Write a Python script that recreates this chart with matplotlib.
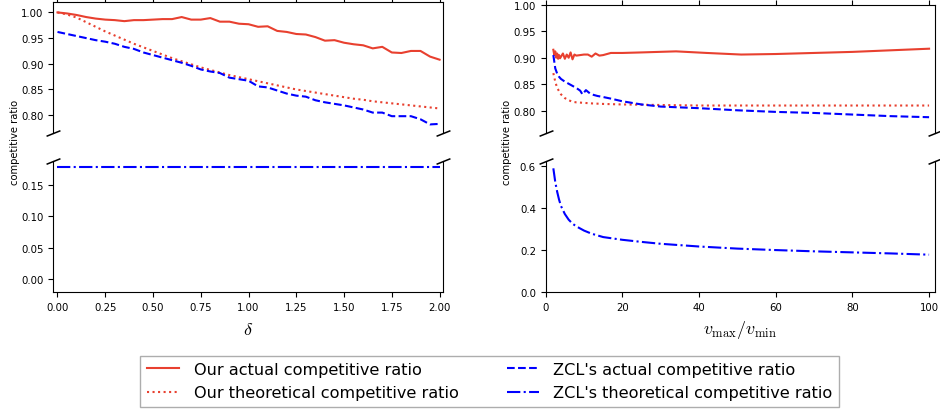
import matplotlib
matplotlib.use("Agg")
import matplotlib.pyplot as plt
import numpy as np

plt.rcParams['mathtext.fontset'] = 'cm'

# left panel: ratio vs delta
delta = np.linspace(0, 2, 41)
our_actual_d = [1.000, 0.998, 0.995, 0.991, 0.988, 0.986, 0.985, 0.983, 0.985, 0.985,
                0.986, 0.987, 0.987, 0.991, 0.986, 0.986, 0.989, 0.982, 0.982, 0.978,
                0.977, 0.972, 0.973, 0.964, 0.962, 0.958, 0.957, 0.952, 0.945, 0.946,
                0.941, 0.938, 0.936, 0.930, 0.933, 0.922, 0.921, 0.925, 0.925, 0.914,
                0.908]
our_theory_d = [1.000, 0.996, 0.990, 0.981, 0.972, 0.963, 0.955, 0.947, 0.939, 0.932,
                0.925, 0.918, 0.911, 0.905, 0.899, 0.893, 0.888, 0.883, 0.878, 0.874,
                0.870, 0.866, 0.862, 0.858, 0.854, 0.850, 0.847, 0.844, 0.841, 0.838,
                0.835, 0.832, 0.830, 0.827, 0.825, 0.823, 0.821, 0.819, 0.817, 0.815,
                0.813]
zcl_actual_d = [0.962, 0.958, 0.954, 0.950, 0.946, 0.943, 0.939, 0.933, 0.929, 0.922,
                0.917, 0.912, 0.907, 0.902, 0.896, 0.889, 0.885, 0.882, 0.873, 0.870,
                0.867, 0.856, 0.854, 0.848, 0.842, 0.838, 0.836, 0.829, 0.825, 0.822,
                0.819, 0.815, 0.811, 0.805, 0.805, 0.798, 0.798, 0.798, 0.792, 0.782,
                0.783]
zcl_theory_d = [0.178] * 41

# right panel: ratio vs vmax/vmin
v_our_act = [2, 2.25, 2.5, 2.75, 3, 3.25, 3.5, 3.75, 4, 4.5, 5, 5.5, 6, 6.5, 7, 7.5, 8,
             9, 10, 11, 12, 13, 14, 15, 17, 20, 25, 34, 42, 51, 60, 70, 80, 90, 100]
our_actual_v = [0.915, 0.905, 0.912, 0.900, 0.908, 0.898, 0.905, 0.899, 0.902, 0.908,
                0.898, 0.906, 0.900, 0.910, 0.897, 0.906, 0.904, 0.905, 0.906, 0.906,
                0.902, 0.908, 0.904, 0.905, 0.909, 0.909, 0.910, 0.912, 0.909, 0.906,
                0.907, 0.909, 0.911, 0.914, 0.917]
v_our_th = [2, 2.5, 3, 3.5, 4, 5, 6, 7, 8, 10, 12, 15, 20, 30, 40, 60, 80, 100]
our_theory_v = [0.871, 0.855, 0.843, 0.837, 0.831, 0.824, 0.820, 0.817, 0.816, 0.815,
                0.814, 0.813, 0.812, 0.811, 0.810, 0.810, 0.810, 0.810]
v_zcl_act = [2, 2.5, 3, 3.5, 4, 5, 6, 7, 8, 9, 9.6, 10.5, 11.5, 12.5, 13.5, 15, 17, 20,
             25, 30, 40, 50, 60, 70, 80, 90, 100]
zcl_actual_v = [0.905, 0.880, 0.870, 0.864, 0.860, 0.855, 0.851, 0.847, 0.843, 0.838,
                0.831, 0.839, 0.833, 0.830, 0.828, 0.826, 0.823, 0.818, 0.812, 0.808,
                0.805, 0.801, 0.798, 0.796, 0.793, 0.790, 0.788]
v_zcl_th = [2, 2.5, 3, 3.5, 4, 5, 6, 7, 8, 10, 12, 15, 20, 25, 30, 40, 50, 60, 70, 80, 90, 100]
zcl_theory_v = [0.590, 0.525, 0.478, 0.440, 0.410, 0.372, 0.345, 0.326, 0.313, 0.293,
                0.278, 0.262, 0.249, 0.239, 0.230, 0.217, 0.207, 0.200, 0.194, 0.189,
                0.184, 0.178]

labels = ["Our actual competitive ratio", "Our theoretical competitive ratio",
          "ZCL's actual competitive ratio", "ZCL's theoretical competitive ratio"]
red = '#e8402f'
blue = '#0000ff'
lw = 1.5

fig = plt.figure(figsize=(9.4, 4.14), dpi=100)

W = 0.414
H = 0.3164
left_top = fig.add_axes([0.0569, 0.676, W, H])
left_bot = fig.add_axes([0.0569, 0.2923, W, H])
right_top = fig.add_axes([0.5805, 0.676, W, H - 0.006])
right_bot = fig.add_axes([0.5805, 0.2923, W, H])


def broken(top, bot):
    top.spines['bottom'].set_visible(False)
    bot.spines['top'].set_visible(False)
    top.xaxis.tick_top()
    top.tick_params(labeltop=False)
    bot.xaxis.tick_bottom()
    for a in (top, bot):
        a.tick_params(labelsize=7.3, length=3.5)
    d = .4
    kw = dict(marker=[(-1, -d), (1, d)], markersize=10, linestyle="none",
              color='k', mec='k', mew=1.1, clip_on=False)
    top.plot([0, 1], [0, 0], transform=top.transAxes, **kw)
    bot.plot([0, 1], [1, 1], transform=bot.transAxes, **kw)


lines = []
for ax in (left_top, left_bot):
    l1, = ax.plot(delta, our_actual_d, color=red, lw=lw, ls='-')
    l2, = ax.plot(delta, our_theory_d, color=red, lw=lw, ls=':')
    l3, = ax.plot(delta, zcl_actual_d, color=blue, lw=lw, ls='--')
    l4, = ax.plot(delta, zcl_theory_d, color=blue, lw=lw, ls='-.')
    ax.set_xlim(-0.021, 2.016)
    lines = [l1, l2, l3, l4]
left_top.set_ylim(0.765, 1.02)
left_top.set_yticks([0.80, 0.85, 0.90, 0.95, 1.00])
left_bot.set_ylim(-0.02, 0.188)
left_bot.set_yticks([0.00, 0.05, 0.10, 0.15])
left_bot.set_xticks([0, 0.25, 0.5, 0.75, 1.0, 1.25, 1.5, 1.75, 2.0])
left_top.set_xticks([0, 0.25, 0.5, 0.75, 1.0, 1.25, 1.5, 1.75, 2.0])
broken(left_top, left_bot)

for ax in (right_top, right_bot):
    ax.plot(v_our_act, our_actual_v, color=red, lw=lw, ls='-')
    ax.plot(v_our_th, our_theory_v, color=red, lw=lw, ls=':')
    ax.plot(v_zcl_act, zcl_actual_v, color=blue, lw=lw, ls='--')
    ax.plot(v_zcl_th, zcl_theory_v, color=blue, lw=lw, ls='-.')
    ax.set_xlim(0, 101.5)
    ax.set_xticks([0, 20, 40, 60, 80, 100])
right_top.set_ylim(0.758, 1.0)
right_top.set_yticks([0.80, 0.85, 0.90, 0.95, 1.00])
right_bot.set_ylim(0, 0.625)
right_bot.set_yticks([0.0, 0.2, 0.4, 0.6])
broken(right_top, right_bot)

fig.text(0.016, 0.655, 'competitive ratio', rotation=90, fontsize=7.2,
         ha='center', va='center')
fig.text(0.539, 0.655, 'competitive ratio', rotation=90, fontsize=7.2,
         ha='center', va='center')
fig.text(0.264, 0.203, r'$\delta$', fontsize=13, ha='center', va='center')
fig.text(0.787, 0.203, r'$v_{\max}/v_{\min}$', fontsize=13, ha='center', va='center')

leg = fig.legend(lines, labels, loc='center', bbox_to_anchor=(0.521, 0.077), ncol=2,
                 fontsize=11.6, fancybox=False, edgecolor='0.6', columnspacing=3.0,
                 handletextpad=0.9, labelspacing=0.5)

fig.savefig('out.png', dpi=100)
